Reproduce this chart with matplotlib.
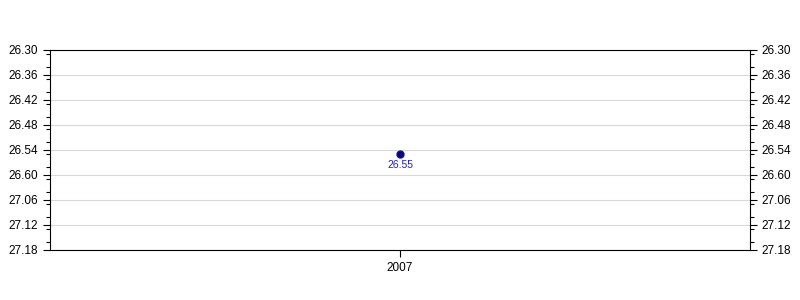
import matplotlib
matplotlib.use('Agg')
import matplotlib.pyplot as plt
from matplotlib.ticker import MultipleLocator

plt.rcParams['font.family'] = ['Liberation Sans', 'DejaVu Sans']

years = ['2007']
values = [26.55]
value_labels = ['26.55']
tick_labels = ['26.30', '26.36', '26.42', '26.48', '26.54', '26.60', '27.06', '27.12', '27.18']

y_start = 26.30
y_step = 0.06
tick_pos = [y_start + i * y_step for i in range(len(tick_labels))]

fig = plt.figure(figsize=(8, 3), dpi=100)
ax = fig.add_axes([0.0625, 0.1667, 0.875, 0.6667])

xs = list(range(len(years)))
ax.plot(xs, values, 'o', color='#000080', markeredgecolor='#1010a0', markersize=5, zorder=3)
for x, v, lab in zip(xs, values, value_labels):
    ax.annotate(lab, (x, v), xytext=(0, -4.5), textcoords='offset points',
                ha='center', va='top', color='#2020c0', fontsize=7.5)

ax.set_xlim(-1, 1)
ax.set_xticks(xs)
ax.set_xticklabels(years, fontsize=8.5)

ax.set_ylim(tick_pos[-1], tick_pos[0])
ax.set_yticks(tick_pos)
ax.set_yticklabels(tick_labels, fontsize=8.5)
ax.yaxis.set_minor_locator(MultipleLocator(y_step / 2))
ax.tick_params(axis='y', which='both', left=True, right=True, labelleft=True, labelright=True)
ax.tick_params(axis='y', which='major', length=5, width=0.8)
ax.tick_params(axis='y', which='minor', length=3, width=0.8)
ax.tick_params(axis='x', length=5, width=0.8)
ax.grid(axis='y', color='#d8d8d8', linewidth=0.8)
ax.set_axisbelow(True)

for sp in ax.spines.values():
    sp.set_linewidth(0.8)

fig.savefig('out.png', dpi=100)
